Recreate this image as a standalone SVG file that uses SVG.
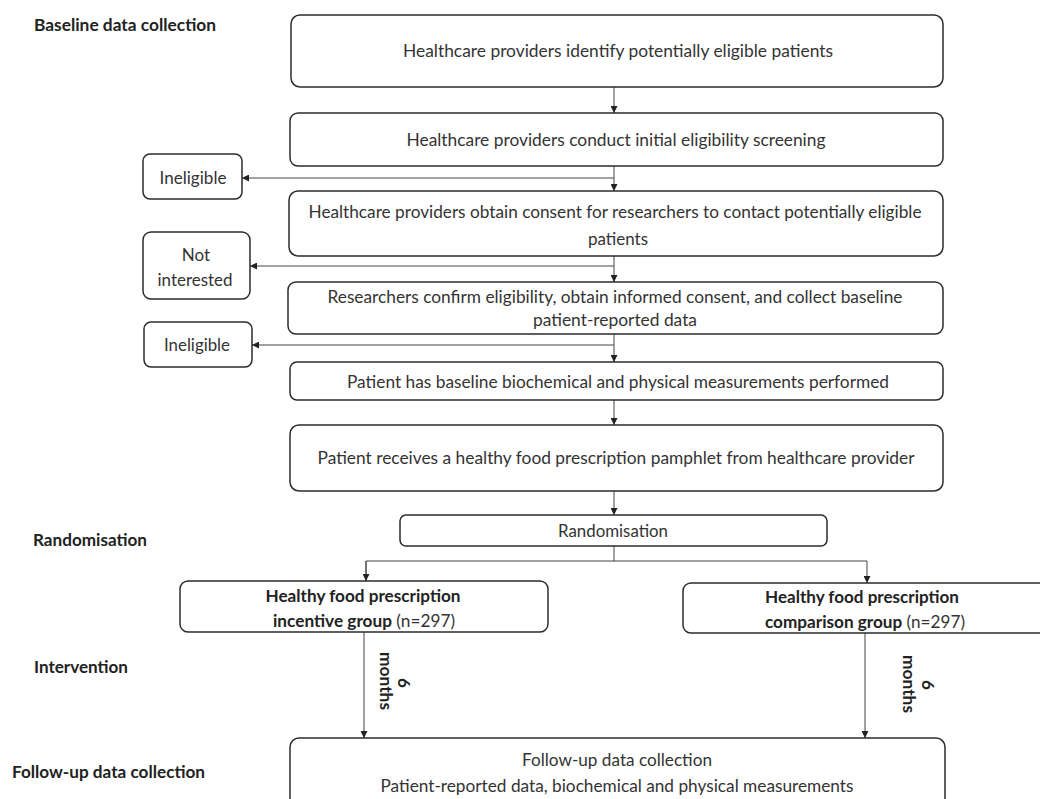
<svg xmlns="http://www.w3.org/2000/svg" width="1040" height="799" viewBox="0 0 1040 799">
<defs>
<style>
.box{fill:#fff;stroke:#2b2b2b;stroke-width:1.5}
.t{font-family:Lato,"Liberation Sans",sans-serif;font-size:17px;fill:#333;text-anchor:middle}
.b{font-weight:bold;fill:#222}
.lab{font-family:Lato,"Liberation Sans",sans-serif;font-size:17px;font-weight:bold;fill:#222}
.c{fill:none;stroke:#444;stroke-width:1}
</style>
<marker id="ah" viewBox="0 0 10 10" refX="10" refY="5" markerWidth="7" markerHeight="7" markerUnits="userSpaceOnUse" orient="auto">
<path d="M0,0 L10,5 L0,10 z" fill="#222"/>
</marker>
</defs>
<rect width="1040" height="799" fill="#fff"/>

<g id="labels">
<text class="lab" x="34" y="31" textLength="182" lengthAdjust="spacingAndGlyphs">Baseline data collection</text>
<text class="lab" x="33" y="546" textLength="114" lengthAdjust="spacingAndGlyphs">Randomisation</text>
<text class="lab" x="34" y="673" textLength="94" lengthAdjust="spacingAndGlyphs">Intervention</text>
<text class="lab" x="12" y="778" textLength="193" lengthAdjust="spacingAndGlyphs">Follow-up data collection</text>
</g>

<g id="connectors">
<line class="c" x1="614" y1="87" x2="614" y2="113" marker-end="url(#ah)"/>
<line class="c" x1="614" y1="166" x2="614" y2="191" marker-end="url(#ah)"/>
<line class="c" x1="614" y1="178" x2="242" y2="178" marker-end="url(#ah)"/>
<line class="c" x1="614" y1="256" x2="614" y2="282" marker-end="url(#ah)"/>
<line class="c" x1="614" y1="266" x2="250" y2="266" marker-end="url(#ah)"/>
<line class="c" x1="614" y1="334" x2="614" y2="362" marker-end="url(#ah)"/>
<line class="c" x1="614" y1="345" x2="252" y2="345" marker-end="url(#ah)"/>
<line class="c" x1="614" y1="400" x2="614" y2="425" marker-end="url(#ah)"/>
<line class="c" x1="614" y1="491" x2="614" y2="515" marker-end="url(#ah)"/>
<polyline class="c" points="614,546 614,561"/>
<polyline class="c" points="366,581 366,561 867,561 867,583" marker-end="url(#ah)"/>
<line class="c" x1="366" y1="561" x2="366" y2="581" marker-end="url(#ah)"/>
<line class="c" x1="364" y1="632" x2="364" y2="738" marker-end="url(#ah)"/>
<line class="c" x1="865" y1="633" x2="865" y2="738" marker-end="url(#ah)"/>
<text class="t b" font-size="15" transform="translate(398,683) rotate(90)">6</text>
<text class="t b" font-size="15" transform="translate(380,681) rotate(90)" textLength="58" lengthAdjust="spacingAndGlyphs">months</text>
<text class="t b" font-size="15" transform="translate(922,685) rotate(90)">6</text>
<text class="t b" font-size="15" transform="translate(903,684) rotate(90)" textLength="58" lengthAdjust="spacingAndGlyphs">months</text>
</g>

<g id="n1"><rect class="box" x="291" y="15" width="652" height="72" rx="9"/>
<text class="t" x="618" y="57" textLength="430" lengthAdjust="spacingAndGlyphs">Healthcare providers identify potentially eligible patients</text></g>

<g id="n2"><rect class="box" x="290" y="113" width="653" height="53" rx="8"/>
<text class="t" x="616" y="146" textLength="419" lengthAdjust="spacingAndGlyphs">Healthcare providers conduct initial eligibility screening</text></g>

<g id="inel1"><rect class="box" x="143" y="154" width="99" height="45" rx="7"/>
<text class="t" x="193" y="184" textLength="67" lengthAdjust="spacingAndGlyphs">Ineligible</text></g>

<g id="n3"><rect class="box" x="289" y="191" width="654" height="65" rx="9"/>
<text class="t" x="615" y="218" textLength="613" lengthAdjust="spacingAndGlyphs">Healthcare providers obtain consent for researchers to contact potentially eligible</text>
<text class="t" x="618" y="245">patients</text></g>

<g id="notint"><rect class="box" x="143" y="232" width="107" height="67" rx="8"/>
<text class="t" x="196" y="261">Not</text>
<text class="t" x="195" y="286" textLength="75" lengthAdjust="spacingAndGlyphs">interested</text></g>

<g id="n4"><rect class="box" x="288" y="282" width="655" height="52" rx="8"/>
<text class="t" x="615" y="303" textLength="575" lengthAdjust="spacingAndGlyphs">Researchers confirm eligibility,  obtain informed consent, and collect baseline</text>
<text class="t" x="615" y="326" textLength="164" lengthAdjust="spacingAndGlyphs">patient-reported data</text></g>

<g id="inel2"><rect class="box" x="144" y="322" width="108" height="45" rx="7"/>
<text class="t" x="197" y="351" textLength="66" lengthAdjust="spacingAndGlyphs">Ineligible</text></g>

<g id="n5"><rect class="box" x="290" y="362" width="653" height="38" rx="7"/>
<text class="t" x="618" y="388" textLength="542" lengthAdjust="spacingAndGlyphs">Patient has baseline biochemical and physical measurements performed</text></g>

<g id="n6"><rect class="box" x="290" y="425" width="653" height="66" rx="9"/>
<text class="t" x="616" y="464" textLength="597" lengthAdjust="spacingAndGlyphs">Patient receives a healthy food prescription pamphlet from healthcare provider</text></g>

<g id="rand"><rect class="box" x="400" y="515" width="427" height="31" rx="6"/>
<text class="t" x="613" y="537" textLength="110" lengthAdjust="spacingAndGlyphs">Randomisation</text></g>

<g id="incentive"><rect class="box" x="180" y="581" width="368" height="51" rx="8"/>
<text class="t b" x="363" y="602" textLength="195" lengthAdjust="spacingAndGlyphs">Healthy food prescription</text>
<text class="t" x="364" y="627" textLength="182" lengthAdjust="spacingAndGlyphs"><tspan class="b">incentive group</tspan> (n=297)</text></g>

<g id="comparison"><rect class="box" x="683" y="583" width="380" height="50" rx="8"/>
<text class="t b" x="862" y="603" textLength="194" lengthAdjust="spacingAndGlyphs">Healthy food prescription</text>
<text class="t" x="865" y="628" textLength="200" lengthAdjust="spacingAndGlyphs"><tspan class="b">comparison group</tspan> (n=297)</text></g>

<g id="followup"><rect class="box" x="290" y="738" width="655" height="90" rx="9"/>
<text class="t" x="617" y="766" textLength="190" lengthAdjust="spacingAndGlyphs">Follow-up data collection</text>
<text class="t" x="617" y="792" textLength="473" lengthAdjust="spacingAndGlyphs">Patient-reported data, biochemical and physical measurements</text></g>
</svg>
